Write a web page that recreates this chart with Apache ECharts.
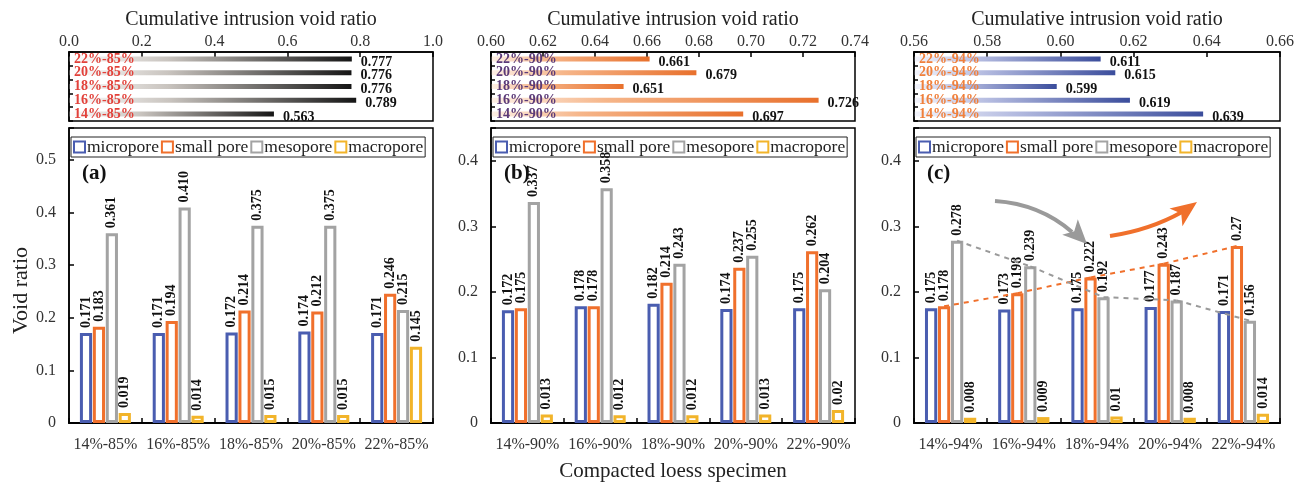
<!DOCTYPE html>
<html>
<head>
<meta charset="utf-8">
<script src="https://cdn.jsdelivr.net/npm/echarts@6/dist/echarts.min.js"></script>
<style>
  html, body { margin: 0; padding: 0; background: #fff; }
  #chart { width: 1299px; height: 483px; }
</style>
</head>
<body>
<div id="chart"></div>
<script>
// ---- data ----
const specimensA = ['14%-85%', '16%-85%', '18%-85%', '20%-85%', '22%-85%'];
const specimensB = ['14%-90%', '16%-90%', '18%-90%', '20%-90%', '22%-90%'];
const specimensC = ['14%-94%', '16%-94%', '18%-94%', '20%-94%', '22%-94%'];

// cumulative intrusion void ratio (14% ... 22%)
const cumulA = ['0.563', '0.789', '0.776', '0.776', '0.777'];
const cumulB = ['0.697', '0.726', '0.651', '0.679', '0.661'];
const cumulC = ['0.639', '0.619', '0.599', '0.615', '0.611'];

const poreNames = ['micropore', 'small pore', 'mesopore', 'macropore'];

const microA = ['0.171', '0.171', '0.172', '0.174', '0.171'];
const smallA = ['0.183', '0.194', '0.214', '0.212', '0.246'];
const mesoA  = ['0.361', '0.410', '0.375', '0.375', '0.215'];
const macroA = ['0.019', '0.014', '0.015', '0.015', '0.145'];

const microB = ['0.172', '0.178', '0.182', '0.174', '0.175'];
const smallB = ['0.175', '0.178', '0.214', '0.237', '0.262'];
const mesoB  = ['0.337', '0.358', '0.243', '0.255', '0.204'];
const macroB = ['0.013', '0.012', '0.012', '0.013', '0.02'];

const microC = ['0.175', '0.173', '0.175', '0.177', '0.171'];
const smallC = ['0.178', '0.198', '0.222', '0.243', '0.27'];
const mesoC  = ['0.278', '0.239', '0.192', '0.187', '0.156'];
const macroC = ['0.008', '0.009', '0.01', '0.008', '0.014'];

const topTicksA = { min: 0, max: 1, interval: 0.2, digits: 1 };
const topTicksB = { min: 0.60, max: 0.74, interval: 0.02, digits: 2 };
const topTicksC = { min: 0.56, max: 0.66, interval: 0.02, digits: 2 };

// ---- styling ----
const SERIF = 'Liberation Serif';
const poreColors = ['#4a5db0', '#f0702c', '#a3a3a3', '#f2b42a'];
const CAT_GAP = 0.30, BAR_GAP = 0.06;

const gridTop = [
  { left: 69, top: 52, width: 364, height: 69 },
  { left: 491, top: 52, width: 364, height: 69 },
  { left: 914, top: 52, width: 366, height: 69 }
];
const gridBot = [
  { left: 69, top: 128, width: 364, height: 295 },
  { left: 491, top: 128, width: 364, height: 295 },
  { left: 914, top: 128, width: 366, height: 295 }
];

const panels = [
  { cats: specimensA, cumul: cumulA, ticks: topTicksA, pores: [microA, smallA, mesoA, macroA], ymax: 0.561,
    catColor: '#e2413a', grad: ['#ffffff', '#c9c4bf', '#151515'], tag: '(a)' },
  { cats: specimensB, cumul: cumulB, ticks: topTicksB, pores: [microB, smallB, mesoB, macroB], ymax: 0.45,
    catColor: '#5b3a78', grad: ['#fdf0e6', '#f6b68a', '#e8702c'], tag: '(b)' },
  { cats: specimensC, cumul: cumulC, ticks: topTicksC, pores: [microC, smallC, mesoC, macroC], ymax: 0.45,
    catColor: '#f0803c', grad: ['#f3f4fb', '#b4bbe0', '#3b4d9c'], tag: '(c)' }
];

const grids = [], xAxes = [], yAxes = [], series = [], legends = [], titles = [];

// offset of bar k's centre from its category centre, as a fraction of the category width
function barOffsetFrac(k, n) {
  const total = 1 - CAT_GAP;
  const bw = total / (n + (n - 1) * BAR_GAP);
  return -total / 2 + k * bw * (1 + BAR_GAP) + bw / 2;
}

const gridBase = { show: true, borderColor: '#000', borderWidth: 1.5, backgroundColor: 'transparent',
  containLabel: false, outerBoundsMode: 'none' };

panels.forEach((p, i) => {
  // ----- upper panel: cumulative intrusion void ratio -----
  const gt = grids.length;
  grids.push(Object.assign({}, gridBase, gridTop[i]));
  xAxes.push({
    gridIndex: gt, type: 'value', position: 'top',
    min: p.ticks.min, max: p.ticks.max, interval: p.ticks.interval,
    name: 'Cumulative intrusion void ratio', nameLocation: 'middle', nameGap: 22,
    nameTextStyle: { fontFamily: SERIF, fontSize: 20, color: '#222' },
    axisLine: { show: true, lineStyle: { color: '#000', width: 1.5 } },
    axisTick: { show: true, inside: true, length: 5, lineStyle: { color: '#000', width: 1.5 } },
    axisLabel: { fontFamily: SERIF, fontSize: 16, color: '#333', margin: 2,
      formatter: v => v.toFixed(p.ticks.digits) },
    splitLine: { show: false }
  });
  yAxes.push({
    gridIndex: gt, type: 'category', data: p.cats, z: 6,
    axisLine: { show: true, lineStyle: { color: '#000', width: 1.5 } },
    axisTick: { show: true, inside: true, length: 4, interval: 0, lineStyle: { color: '#000', width: 1.5 } },
    axisLabel: { inside: true, interval: 0, margin: 5, fontFamily: SERIF, fontSize: 14, fontWeight: 'bold', color: p.catColor }
  });
  const topAxis = xAxes.length - 1;
  const grad = p.grad;
  const cumul = p.cumul;
  series.push({
    type: 'custom', name: 'cumulative' + i, xAxisIndex: topAxis, yAxisIndex: topAxis,
    data: cumul.map((v, k) => [v, k]),
    encode: { x: 0, y: 1 },
    renderItem: (params, api) => {
      const cs = params.coordSys;
      const end = api.coord([api.value(0), api.value(1)]);
      const h = 5;
      return {
        type: 'group',
        children: [
          { type: 'rect', shape: { x: cs.x, y: end[1] - h / 2, width: end[0] - cs.x, height: h },
            style: { fill: new echarts.graphic.LinearGradient(0, 0, 1, 0, [
              { offset: 0, color: grad[0] }, { offset: 0.35, color: grad[1] }, { offset: 1, color: grad[2] }]) } },
          { type: 'text', x: end[0] + 9, y: end[1] + 3,
            style: { text: cumul[params.dataIndex], fontFamily: SERIF, fontSize: 14, fontWeight: 'bold',
              fill: '#111', verticalAlign: 'middle', align: 'left' } }
        ]
      };
    }
  });

  // ----- lower panel: void ratio by pore type -----
  const gb = grids.length;
  grids.push(Object.assign({}, gridBase, gridBot[i]));
  xAxes.push({
    gridIndex: gb, type: 'category', data: p.cats,
    name: i === 1 ? 'Compacted loess specimen' : '', nameLocation: 'middle', nameGap: 38,
    nameTextStyle: { fontFamily: SERIF, fontSize: 21, color: '#222' },
    axisLine: { show: true, lineStyle: { color: '#000', width: 2 } },
    axisTick: { show: true, inside: true, length: 5, interval: 0, lineStyle: { color: '#000', width: 1.5 } },
    axisLabel: { fontFamily: SERIF, fontSize: 16, color: '#333', margin: 14, interval: 0 }
  });
  yAxes.push({
    gridIndex: gb, type: 'value', min: 0, max: p.ymax, interval: 0.1,
    name: i === 0 ? 'Void ratio' : '', nameLocation: 'middle', nameGap: 36, nameRotate: 90,
    nameTextStyle: { fontFamily: SERIF, fontSize: 22, color: '#222', padding: [0, 0, 0, -30] },
    axisLine: { show: true, lineStyle: { color: '#000', width: 1.5 } },
    axisTick: { show: true, inside: true, length: 5, lineStyle: { color: '#000', width: 1.5 } },
    axisLabel: { fontFamily: SERIF, fontSize: 16, color: '#333', margin: 13,
      formatter: v => {
        const r = Math.round(v * 10);
        if (Math.abs(v * 10 - r) > 1e-6) return '';
        return r === 0 ? '0' : (r / 10).toFixed(1);
      } },
    splitLine: { show: false }
  });
  const botAxis = xAxes.length - 1;
  p.pores.forEach((vals, k) => {
    series.push({
      type: 'bar', name: poreNames[k], xAxisIndex: botAxis, yAxisIndex: botAxis,
      data: vals,
      barCategoryGap: (CAT_GAP * 100) + '%', barGap: (BAR_GAP * 100) + '%',
      itemStyle: { color: '#fff', borderColor: poreColors[k], borderWidth: 3 },
      label: {
        show: true, position: 'top', rotate: 90, align: 'left', verticalAlign: 'middle', distance: 5,
        fontFamily: SERIF, fontSize: 14, fontWeight: 'bold', color: '#111',
        formatter: prm => vals[prm.dataIndex]
      },
      emphasis: { disabled: true }
    });
  });

  legends.push({
    data: poreNames.map(n => ({ name: n, icon: 'rect' })),
    left: gridBot[i].left + 2, top: 137, orient: 'horizontal',
    itemWidth: 11, itemHeight: 11, itemGap: 2,
    padding: [1, 2, 1, 2],
    borderColor: '#222', borderWidth: 1,
    textStyle: { fontFamily: SERIF, fontSize: 17.5, color: '#222', padding: [0, 0, 0, -3] },
    selectedMode: false
  });
  titles.push({
    text: p.tag, left: gridBot[i].left + 8, top: 158,
    textStyle: { fontFamily: SERIF, fontSize: 21, fontWeight: 'bold', color: '#111' }
  });

  // dashed trend lines through the small pore and mesopore bar tops in panel (c)
  if (i === 2) {
    [[1, '#f0702c'], [2, '#9a9a9a']].forEach(([k, col]) => {
      const vals = p.pores[k];
      series.push({
        type: 'custom', name: 'trend' + k, xAxisIndex: botAxis, yAxisIndex: botAxis, z: 4,
        data: vals.map((v, c) => [c, v]),
        encode: { x: 0, y: 1 },
        renderItem: (params, api) => {
          const c = params.dataIndex;
          if (c >= vals.length - 1) return null;
          const catW = api.size([1, 0])[0];
          const off = barOffsetFrac(k, 4) * catW;
          const a = api.coord([c, +vals[c]]);
          const b = api.coord([c + 1, +vals[c + 1]]);
          return { type: 'line', shape: { x1: a[0] + off, y1: a[1], x2: b[0] + off, y2: b[1] },
            style: { stroke: col, lineWidth: 2, lineDash: [5, 5] } };
        }
      });
    });
  }
});

// curved arrows annotating the trends in panel (c)
function arrowHead(tip, ang, len, half, color) {
  const bx = tip[0] - len * Math.cos(ang), by = tip[1] - len * Math.sin(ang);
  const nx = -Math.sin(ang), ny = Math.cos(ang);
  return { type: 'polygon', z: 10,
    shape: { points: [tip, [bx + nx * half, by + ny * half], [bx + len * 0.25 * Math.cos(ang), by + len * 0.25 * Math.sin(ang)], [bx - nx * half, by - ny * half]] },
    style: { fill: color } };
}
const graphics = [
  { type: 'bezierCurve', z: 10, shape: { x1: 995, y1: 201, cpx1: 1040, cpy1: 204, x2: 1072, y2: 232 },
    style: { stroke: '#9a9a9a', lineWidth: 4, fill: null } },
  arrowHead([1087, 244], Math.atan2(30, 30), 24, 11, '#9a9a9a'),
  { type: 'bezierCurve', z: 10, shape: { x1: 1110, y1: 236, cpx1: 1150, cpy1: 230, x2: 1182, y2: 212 },
    style: { stroke: '#f0702c', lineWidth: 4, fill: null } },
  arrowHead([1197, 202], Math.atan2(-16, 22), 26, 11, '#f0702c')
];

const chart = echarts.init(document.getElementById('chart'), null, { renderer: 'canvas' });
chart.setOption({
  animation: false,
  backgroundColor: '#fff',
  title: titles,
  legend: legends,
  grid: grids,
  xAxis: xAxes,
  yAxis: yAxes,
  series: series,
  graphic: graphics
});
</script>
</body>
</html>
